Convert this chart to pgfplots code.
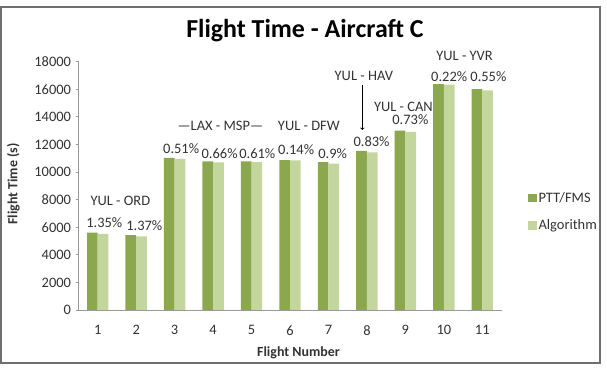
\documentclass[border=0pt]{standalone}
\usepackage{pgfplots}
\usepackage{pgfplotstable}
\pgfplotsset{compat=1.18}
\usepackage{fontspec}
\setmainfont{Carlito}
\definecolor{darkg}{HTML}{8BA84F}
\definecolor{lightg}{HTML}{C2D69E}
\definecolor{axgray}{HTML}{9A9A9A}
\definecolor{framegray}{HTML}{6E6E6E}
\definecolor{txt}{HTML}{333333}

\pgfplotstableread{
x ptt alg
1 5600 5524
2 5420 5346
3 11020 10964
4 10780 10709
5 10780 10714
6 10856 10841
7 10711 10615
8 11530 11434
9 13002 12907
10 16367 16331
11 16004 15916
}\datatable

\begin{document}
\begin{tikzpicture}
\useasboundingbox (0bp,0bp) rectangle (607bp,368bp);
\fill[white] (0bp,0bp) rectangle (607bp,368bp);
\draw[framegray, line width=2bp] (1bp,4.5bp) rectangle (600bp,361bp);
\begin{axis}[
  at={(78.5bp,58bp)}, anchor=south west,
  scale only axis,
  width=423bp, height=248.3bp,
  xmin=0.5, xmax=11.5, ymin=0, ymax=18000,
  ybar=0pt, bar width=10.7bp,
  axis x line*=bottom, axis y line*=left,
  axis line style={axgray, line width=0.9bp},
  xtick={1,...,11},
  ytick={0,2000,...,18000},
  major x tick style={draw=none},
  major y tick style={axgray, line width=0.9bp},
  tick align=outside, major tick length=3bp,
  tick label style={font=\fontsize{14.5}{16}\selectfont, text=txt},
  xticklabel style={yshift=-9bp},
  yticklabel style={xshift=-1bp},
  /pgf/number format/assume math mode=true,
  /pgf/number format/1000 sep={},
  scaled y ticks=false,
  clip=false,
  legend style={at={(1.055,0.395)}, anchor=west, draw=none, fill=none,
    font=\fontsize{14.5}{16}\selectfont, text=txt, row sep=12bp,
    legend cell align=left},
  legend image code/.code={\fill[#1] (0bp,-4.3bp) rectangle (8.6bp,4.3bp);},
]
\addplot[fill=darkg, draw=none] table[x=x,y=ptt] {\datatable};
\addlegendentry{PTT/FMS}
\addplot[fill=lightg, draw=none] table[x=x,y=alg] {\datatable};
\addlegendentry{Algorithm}

\begin{scope}[every node/.style={font=\fontsize{14.5}{16}\selectfont, text=txt, inner sep=0pt}]
\node at (axis cs:1.59,7904) {YUL - ORD};
\node at (axis cs:1.17,6360) {1.35\%};
\node at (axis cs:2.21,6091) {1.37\%};
\node at (axis cs:3.17,11675) {0.51\%};
\node at (axis cs:4.17,11363) {0.66\%};
\node at (axis cs:5.15,11363) {0.61\%};
\node at (axis cs:6.16,11653) {0.14\%};
\node at (axis cs:7.11,11313) {0.9\%};
\node at (axis cs:4.19,13340) {—LAX - MSP—};
\node at (axis cs:6.49,13340) {YUL - DFW};
\node at (axis cs:7.92,16969) {YUL - HAV};
\node at (axis cs:8.95,14721) {YUL - CAN};
\node at (axis cs:9.13,13778) {0.73\%};
\node at (axis cs:8.12,12183) {0.83\%};
\node at (axis cs:10.54,18419) {YUL - YVR};
\node at (axis cs:10.14,16918) {0.22\%};
\node at (axis cs:11.16,16918) {0.55\%};
\end{scope}
\draw[->, black, line width=0.7bp] (axis cs:7.88,16316) -- (axis cs:7.88,13053);
\end{axis}
\node[anchor=base, font=\fontsize{26}{30}\selectfont\bfseries] at (305bp,330.5bp) {Flight Time - Aircraft C};
\node[font=\fontsize{14}{16}\selectfont\bfseries, text=txt] at (298.5bp,15.3bp) {Flight Number};
\node[rotate=90, font=\fontsize{14}{16}\selectfont\bfseries, text=txt] at (13.5bp,184bp) {Flight Time (s)};
\end{tikzpicture}
\end{document}
